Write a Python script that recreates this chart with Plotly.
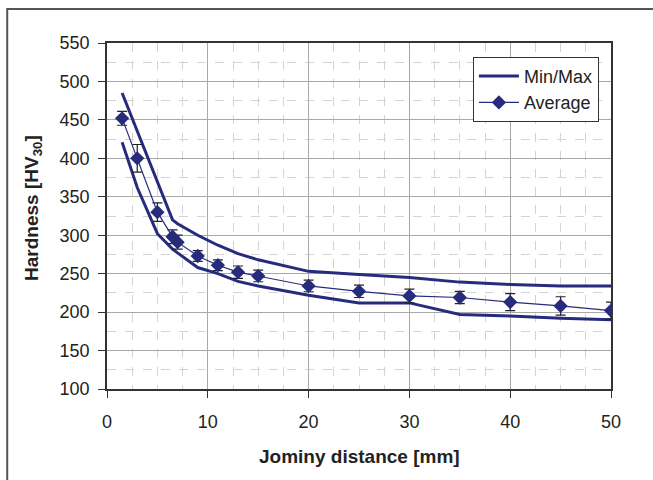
import plotly.graph_objects as go

# Data
dist = [1.5, 3, 5, 6.5, 7, 9, 11, 13, 15, 20, 25, 30, 35, 40, 45, 50]
avg = [452, 400, 330, 298, 291, 273, 261, 252, 247, 234, 227, 221, 219, 213, 208, 202]
err = [9, 18, 12, 9, 9, 7, 7, 8, 7.5, 7.5, 8, 9, 8, 11, 12, 11]
hv_max = [485, 435, 370, 320, 315, 300, 287, 276, 268, 253, 249, 245, 239, 236, 234, 234]
hv_min = [421, 362, 302, 282, 277, 258, 250, 240, 234, 222, 212, 212, 197, 195, 192, 190]
x_title = "Jominy distance [mm]"
y_title = "Hardness [HV<sub>30</sub>]"

navy = "#262b7c"
font = "Liberation Sans, Arial, sans-serif"

fig = go.Figure()
fig.add_trace(go.Scatter(x=dist, y=hv_max, mode="lines", name="Min/Max",
                         line=dict(color=navy, width=3), legendgroup="mm"))
fig.add_trace(go.Scatter(x=dist, y=hv_min, mode="lines", name="Min/Max",
                         line=dict(color=navy, width=3), legendgroup="mm", showlegend=False))
fig.add_trace(go.Scatter(x=dist, y=avg, mode="lines+markers", name="Average",
                         line=dict(color=navy, width=1.2),
                         marker=dict(symbol="diamond", size=11, color=navy),
                         error_y=dict(type="data", array=err, visible=True,
                                      color="#222222", thickness=1.2, width=5)))

axis_common = dict(showline=True, linecolor="#333333", linewidth=1.5, mirror=True,
                   ticks="outside", ticklen=7, tickcolor="#333333",
                   showgrid=True, gridcolor="#a8a8a8", gridwidth=1, zeroline=False,
                   automargin=False,
                   tickfont=dict(family=font, size=18, color="#222222"))

fig.update_xaxes(range=[0, 50], dtick=10, **axis_common, ticklabelstandoff=9,
                 minor=dict(dtick=2.5, showgrid=True, gridcolor="#d4d4d4", griddash="dash", ticks=""))
fig.update_yaxes(range=[100, 550], dtick=50, **axis_common, ticklabelstandoff=5,
                 minor=dict(dtick=25, showgrid=True, gridcolor="#d4d4d4", griddash="dash", ticks=""))

fig.add_annotation(text="<b>" + x_title + "</b>", xref="paper", yref="paper",
                   x=0.5, y=-0.194, xanchor="center", yanchor="middle", showarrow=False,
                   font=dict(family=font, size=19, color="#222222"))
fig.add_annotation(text="<b>" + y_title + "</b>", xref="paper", yref="paper",
                   x=-0.147, y=0.523, xanchor="center", yanchor="middle", showarrow=False,
                   textangle=-90, font=dict(family=font, size=19, color="#222222"))

fig.update_layout(
    width=653, height=480,
    margin=dict(l=107, r=42, t=43, b=91),
    paper_bgcolor="white", plot_bgcolor="white",
    font=dict(family=font, size=18, color="#222222"),
    legend=dict(x=0.726, y=0.96, xanchor="left", yanchor="top",
                bgcolor="white", bordercolor="#333333", borderwidth=1,
                font=dict(family=font, size=18, color="#222222"),
                tracegroupgap=0, itemwidth=40),
    shapes=[dict(type="rect", xref="paper", yref="paper",
                 x0=-0.198, x1=1.3, y0=-0.4, y1=1.098,
                 line=dict(color="#555555", width=2), fillcolor="rgba(0,0,0,0)", layer="below")],
)

fig.write_html("out.html", config={"displayModeBar": False},
               post_script="document.body.style.margin='0px';")
